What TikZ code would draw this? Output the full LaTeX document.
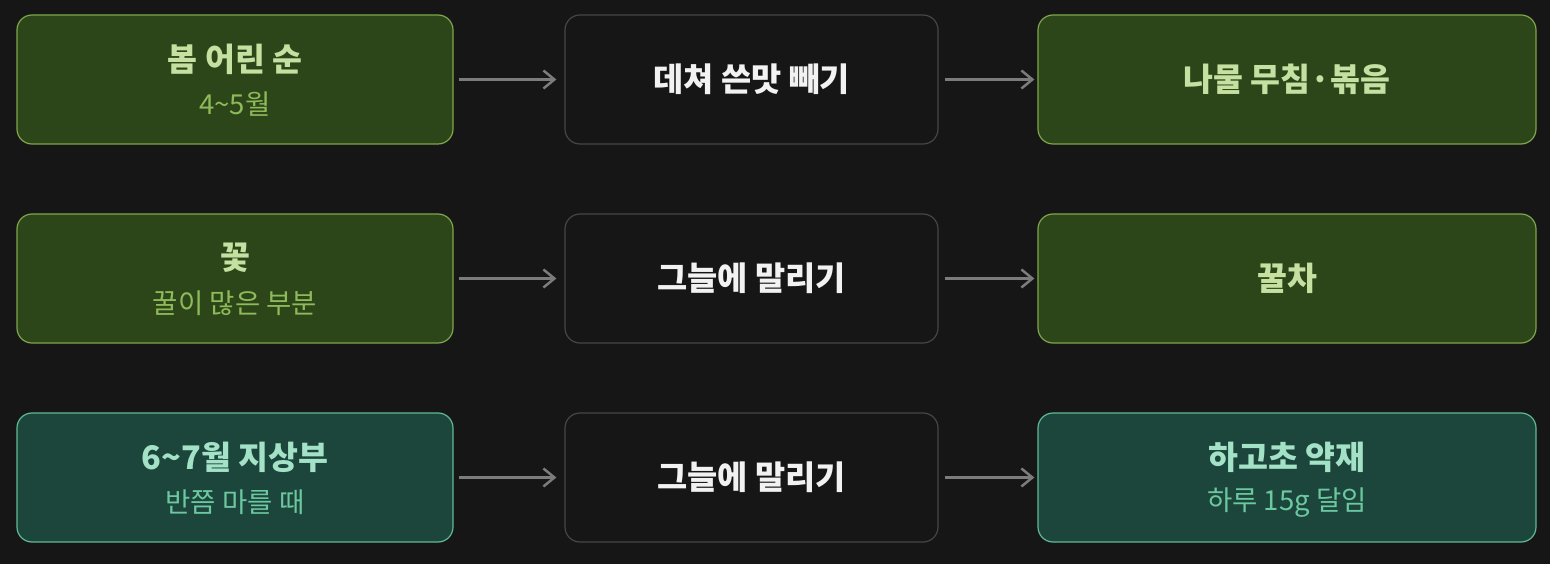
\documentclass[tikz,border=0pt]{standalone}
\usepackage{fontspec}
\setmainfont{Noto Sans CJK KR}
\usetikzlibrary{arrows.meta}
\definecolor{bg}{HTML}{161616}
\definecolor{gfill}{HTML}{2C4619}
\definecolor{gline}{HTML}{7FA64A}
\definecolor{gtitle}{HTML}{C5E0A0}
\definecolor{gsub}{HTML}{8FBA5A}
\definecolor{tfill}{HTML}{1C463C}
\definecolor{tline}{HTML}{5FBA94}
\definecolor{ttitle}{HTML}{A3E2C6}
\definecolor{tsub}{HTML}{6CC8A0}
\definecolor{mline}{HTML}{464646}
\definecolor{mtext}{HTML}{F2F2F2}
\definecolor{arrc}{HTML}{7C7C7C}
\tikzset{
  box/.style={draw, rounded corners=15pt, line width=1.2pt, inner sep=0pt, minimum height=129pt},
  gbox/.style={box, fill=gfill, draw=gline, minimum width=436pt},
  tbox/.style={box, fill=tfill, draw=tline, minimum width=436pt},
  mbox/.style={box, fill=bg, draw=mline, minimum width=373pt},
  gres/.style={box, fill=gfill, draw=gline, minimum width=498pt},
  tres/.style={box, fill=tfill, draw=tline, minimum width=498pt},
  ttl/.style={font=\fontsize{32.5}{36}\selectfont\bfseries, inner sep=0pt},
  sbt/.style={font=\fontsize{27.5}{31}\selectfont, inner sep=0pt},
  mtx/.style={font=\fontsize{32.8}{36}\selectfont\bfseries, text=mtext, inner sep=0pt},
  arr/.style={draw=arrc, line width=2.5pt, -{Straight Barb[length=11pt,width=18pt,line width=2.5pt]}},
}
\begin{document}
\begin{tikzpicture}[x=1pt,y=-1pt]
\fill[bg] (0,0) rectangle (1550,564);
% row 1
\node[gbox] (a1) at (235,79.5) {};
\node[mbox] (b1) at (751.5,79.5) {};
\node[gres] (c1) at (1287,79.5) {};
\node[ttl, text=gtitle] (a1t) at (235,59) {봄 어린 순};
\node[sbt, text=gsub] (a1s) at (235,104.5) {4\textasciitilde 5월};
\node[mtx] (b1t) at (751.5,79) {데쳐 쓴맛 빼기};
\node[ttl, text=gtitle] (c1t) at (1287,79) {나물 무침·볶음};
% row 2
\node[gbox] (a2) at (235,278.5) {};
\node[mbox] (b2) at (751.5,278.5) {};
\node[gres] (c2) at (1287,278.5) {};
\node[ttl, text=gtitle] (a2t) at (235,258) {꽃};
\node[sbt, text=gsub] (a2s) at (235,303.5) {꿀이 많은 부분};
\node[mtx] (b2t) at (751.5,278) {그늘에 말리기};
\node[ttl, text=gtitle] (c2t) at (1287,278) {꿀차};
% row 3
\node[tbox] (a3) at (235,477.5) {};
\node[mbox] (b3) at (751.5,477.5) {};
\node[tres] (c3) at (1287,477.5) {};
\node[ttl, text=ttitle] (a3t) at (235,457.5) {6\textasciitilde 7월 지상부};
\node[sbt, text=tsub] (a3s) at (235,502.5) {반쯤 마를 때};
\node[mtx] (b3t) at (751.5,477) {그늘에 말리기};
\node[ttl, text=ttitle] (c3t) at (1287,457.5) {하고초 약재};
\node[sbt, text=tsub] (c3s) at (1287,502.5) {하루 15g 달임};
% arrows
\foreach \r in {1,2,3}{
  \draw[arr, shorten <=5pt, shorten >=8pt] (a\r.east) -- (b\r.west);
  \draw[arr, shorten <=6pt, shorten >=3pt] (b\r.east) -- (c\r.west);
}
\end{tikzpicture}
\end{document}
